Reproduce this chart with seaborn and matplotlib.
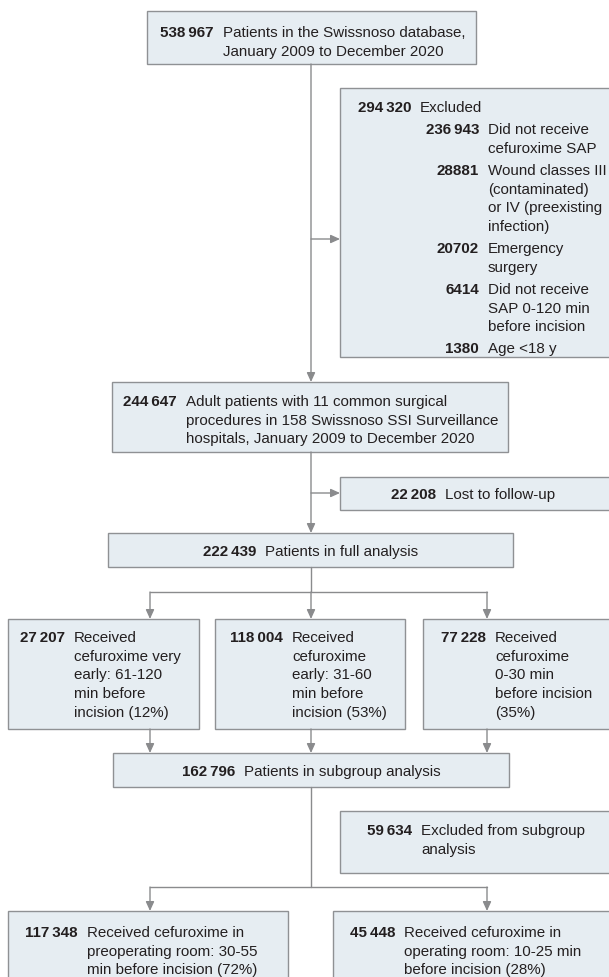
import matplotlib
matplotlib.use("Agg")
import matplotlib.pyplot as plt
from matplotlib.patches import Rectangle
import pandas as pd
import seaborn as sns

# counts and wording
screened_n = 538967
screened_text = "Patients in the Swissnoso database,\nJanuary 2009 to December 2020"
excluded_n = 294320
excluded_text = "Excluded"
reason_n = [236943, 28881, 20702, 6414, 1380]
reason_text = [
    "Did not receive\ncefuroxime SAP",
    "Wound classes III\n(contaminated)\nor IV (preexisting\ninfection)",
    "Emergency\nsurgery",
    "Did not receive\nSAP 0-120 min\nbefore incision",
    "Age <18 y",
]
cohort_n = 244647
cohort_text = ("Adult patients with 11 common surgical\n"
               "procedures in 158 Swissnoso SSI Surveillance\n"
               "hospitals, January 2009 to December 2020")
lost_n = 22208
lost_text = "Lost to follow-up"
full_n = 222439
full_text = "Patients in full analysis"
timing_n = [27207, 118004, 77228]
timing_text = [
    "Received\ncefuroxime very\nearly: 61-120\nmin before\nincision (12%)",
    "Received\ncefuroxime\nearly: 31-60\nmin before\nincision (53%)",
    "Received\ncefuroxime\n0-30 min\nbefore incision\n(35%)",
]
subgroup_n = 162796
subgroup_text = "Patients in subgroup analysis"
sub_excl_n = 59634
sub_excl_text = "Excluded from subgroup\nanalysis"
room_n = [117348, 45448]
room_text = [
    "Received cefuroxime in\npreoperating room: 30-55\nmin before incision (72%)",
    "Received cefuroxime in\noperating room: 10-25 min\nbefore incision (28%)",
]

# layout (pixel units, y grows downward)
W, H = 609, 978
FILL = "#e6edf2"
EDGE = "#8f9194"
LINE = "#8a8b8d"
INK = "#231f20"
FS = 10.9
STEP = 18.7
SPINE = 311
BRANCH = [150, SPINE, 487]

boxes = {
    "screened": (147, 12, 476, 65),
    "excluded": (340, 89, 612, 358),
    "cohort": (112, 383, 508, 453),
    "lost": (340, 478, 612, 511),
    "full": (108, 534, 513, 568),
    "t0": (8, 620, 199, 730),
    "t1": (215, 620, 405, 730),
    "t2": (423, 620, 612, 730),
    "subgroup": (113, 754, 509, 788),
    "sub_excl": (340, 812, 612, 874),
    "r0": (8, 912, 288, 995),
    "r1": (333, 912, 612, 995),
}


def fmt(n, grouped=True):
    s = f"{n:,}"
    return s.replace(",", "\u2009") if grouped else s.replace(",", "")


def entry(ax, n, text, x_text, y_base, grouped=True, gap=9):
    ax.text(x_text - gap, y_base, fmt(n, grouped), ha="right", va="baseline",
            fontsize=FS, fontweight="bold", color=INK)
    lines = text.split("\n")
    for i, line in enumerate(lines):
        ax.text(x_text, y_base + i * STEP, line, ha="left", va="baseline",
                fontsize=FS, color=INK)
    return len(lines)


def arrow(ax, x0, y0, x1, y1):
    ax.annotate("", xy=(x1, y1), xytext=(x0, y0),
                arrowprops=dict(arrowstyle="-|>,head_length=0.55,head_width=0.25",
                                color=LINE, lw=1.0, shrinkA=0, shrinkB=0,
                                mutation_scale=10))


sns.set_theme(style="white")
plt.rcParams["font.family"] = ["Liberation Sans", "DejaVu Sans"]

fig = plt.figure(figsize=(W / 100, H / 100), dpi=100)
ax = fig.add_axes([0, 0, 1, 1])
ax.set_xlim(0, W)
ax.set_ylim(H, 0)
ax.axis("off")

for x0, y0, x1, y1 in boxes.values():
    ax.add_patch(Rectangle((x0, y0), x1 - x0, y1 - y0, facecolor=FILL,
                           edgecolor=EDGE, lw=1.0, zorder=1))

# plain connector segments
segs = [
    [(SPINE, 568), (SPINE, 593)],
    [(BRANCH[0], 593), (BRANCH[2], 593)],
    [(SPINE, 788), (SPINE, 888)],
    [(BRANCH[0], 888), (BRANCH[2], 888)],
]
rows = [(i, x, y) for i, seg in enumerate(segs) for x, y in seg]
seg_df = pd.DataFrame(rows, columns=["seg", "x", "y"])
sns.lineplot(data=seg_df, x="x", y="y", units="seg", estimator=None, sort=False,
             color=LINE, lw=1.0, legend=False, ax=ax)
ax.set_xlim(0, W)
ax.set_ylim(H, 0)

arrow(ax, SPINE, 65, SPINE, 383)
arrow(ax, SPINE, 240, 340, 240)
arrow(ax, SPINE, 453, SPINE, 534)
arrow(ax, SPINE, 494, 340, 494)
for x in BRANCH:
    arrow(ax, x, 593, x, 620)
    arrow(ax, x, 730, x, 754)
for x in (BRANCH[0], BRANCH[2]):
    arrow(ax, x, 888, x, 912)

# box texts
entry(ax, screened_n, screened_text, 223, 37)
entry(ax, excluded_n, excluded_text, 420, 112)
y = 112 + STEP + 3.4
for n, t in zip(reason_n, reason_text):
    k = entry(ax, n, t, 488, y, grouped=n > 99999)
    y += k * STEP + 3.4
entry(ax, cohort_n, cohort_text, 186, 406)
entry(ax, lost_n, lost_text, 445, 499)
entry(ax, full_n, full_text, 265, 556)
for n, t, xt in zip(timing_n, timing_text, [74, 292, 495]):
    entry(ax, n, t, xt, 642)
entry(ax, subgroup_n, subgroup_text, 244, 776)
entry(ax, sub_excl_n, sub_excl_text, 421, 835)
for n, t, xt in zip(room_n, room_text, [87, 404]):
    entry(ax, n, t, xt, 937)

fig.savefig("out.png", dpi=100, facecolor="white")
